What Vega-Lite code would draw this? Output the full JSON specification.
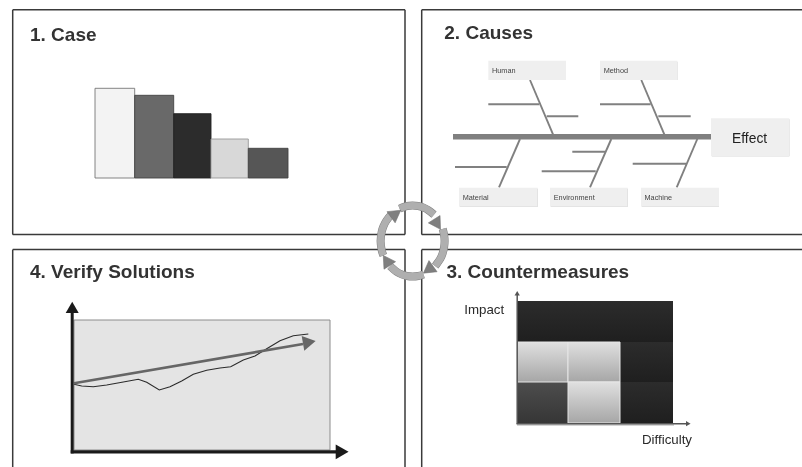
{
"$schema":"https://vega.github.io/schema/vega-lite/v6.json",
"autosize":{"type":"none"},
"padding":0,
"width":802,
"height":467,
"background":"#ffffff",
"config":{"view":{"stroke":null},"text":{"font":"Liberation Sans"}},
"encoding":{
 "x":{"type":"quantitative","field":"x","axis":null,"scale":{"domain":[0,802],"nice":false,"zero":false}},
 "y":{"type":"quantitative","field":"y","axis":null,"scale":{"domain":[467,0],"nice":false,"zero":false}}
},
"layer":[
 {"description":"panel frames",
  "data":{"values":[
   {"x":12.7,"y":9.8,"x2":405,"y2":9.8},{"x":12.7,"y":234.6,"x2":405,"y2":234.6},
   {"x":12.7,"y":9.8,"x2":12.7,"y2":234.6},{"x":405,"y":9.8,"x2":405,"y2":234.6},
   {"x":421.7,"y":9.8,"x2":802,"y2":9.8},{"x":421.7,"y":234.6,"x2":802,"y2":234.6},
   {"x":421.7,"y":9.8,"x2":421.7,"y2":234.6},
   {"x":12.7,"y":249.6,"x2":405,"y2":249.6},{"x":12.7,"y":249.6,"x2":12.7,"y2":467},{"x":405,"y":249.6,"x2":405,"y2":467},
   {"x":421.7,"y":249.6,"x2":802,"y2":249.6},{"x":421.7,"y":249.6,"x2":421.7,"y2":467}
  ]},
  "mark":{"type":"rule","stroke":"#3a3a3a","strokeWidth":1.5},
  "encoding":{"x2":{"field":"x2"},"y2":{"field":"y2"}}},

 {"description":"Pareto bars of panel 1",
  "data":{"values":[
   {"bar":"A","x":95,"x2":134.7,"y":88.3,"y2":178},
   {"bar":"B","x":134.7,"x2":173.7,"y":95.3,"y2":178},
   {"bar":"C","x":173.7,"x2":211,"y":113.7,"y2":178},
   {"bar":"D","x":211,"x2":248.3,"y":139,"y2":178},
   {"bar":"E","x":248.3,"x2":288,"y":148.3,"y2":178}
  ]},
  "mark":{"type":"rect","strokeWidth":0.9},
  "encoding":{"x2":{"field":"x2"},"y2":{"field":"y2"},
   "fill":{"field":"bar","type":"nominal","legend":null,"scale":{"domain":["A","B","C","D","E"],"range":["#f3f3f3","#696969","#2c2c2c","#d8d8d8","#565656"]}},
   "stroke":{"field":"bar","type":"nominal","legend":null,"scale":{"domain":["A","B","C","D","E"],"range":["#777777","#444444","#222222","#999999","#444444"]}}}},

 {"description":"fishbone spine",
  "data":{"values":[{"x":453,"x2":711,"y":134,"y2":139.4}]},
  "mark":{"type":"rect","fill":"#808080"},
  "encoding":{"x2":{"field":"x2"},"y2":{"field":"y2"}}},
 {"description":"fishbone branches",
  "data":{"values":[
   {"x":530,"y":80,"x2":553,"y2":134.3},{"x":488.3,"y":104.3,"x2":539.3,"y2":104.3},{"x":546.7,"y":116.3,"x2":578.3,"y2":116.3},
   {"x":641.3,"y":80,"x2":664.3,"y2":134.3},{"x":600,"y":104.3,"x2":650.7,"y2":104.3},{"x":658.3,"y":116.3,"x2":690.7,"y2":116.3},
   {"x":520,"y":139,"x2":499,"y2":187.3},{"x":455,"y":167,"x2":506.7,"y2":167},
   {"x":611.3,"y":139,"x2":590,"y2":187.3},{"x":572.3,"y":151.7,"x2":605,"y2":151.7},{"x":541.7,"y":171.3,"x2":595.7,"y2":171.3},
   {"x":697.3,"y":139,"x2":676.7,"y2":187.3},{"x":632.7,"y":163.7,"x2":686,"y2":163.7}
  ]},
  "mark":{"type":"rule","stroke":"#808080","strokeWidth":1.9},
  "encoding":{"x2":{"field":"x2"},"y2":{"field":"y2"}}},
 {"description":"shadow behind fishbone boxes",
  "data":{"name":"boxes","values":[
   {"x":488.3,"x2":566,"y":60.7,"y2":80},{"x":600,"x2":677.3,"y":60.7,"y2":80},
   {"x":459,"x2":537.7,"y":187.7,"y2":206.7},{"x":550,"x2":627.7,"y":187.7,"y2":206.7},{"x":641,"x2":719,"y":187.7,"y2":206.7},
   {"x":711,"x2":789.3,"y":118.3,"y2":156.3}
  ]},
  "mark":{"type":"rect","fill":"#b0b0b0","xOffset":1,"yOffset":1},
  "encoding":{"x2":{"field":"x2"},"y2":{"field":"y2"}}},
 {"description":"fishbone boxes",
  "data":{"name":"boxes"},
  "mark":{"type":"rect","fill":"#efefef"},
  "encoding":{"x2":{"field":"x2"},"y2":{"field":"y2"}}},
 {"description":"fishbone category labels",
  "data":{"values":[
   {"label":"Human","x":492,"y":73},{"label":"Method","x":603.7,"y":73},
   {"label":"Material","x":462.7,"y":200},{"label":"Environment","x":553.7,"y":200},{"label":"Machine","x":644.5,"y":200}
  ]},
  "mark":{"type":"text","align":"left","baseline":"alphabetic","fontSize":7.3,"fill":"#444444","blend":"darken","font":"Liberation Sans"},
  "encoding":{"text":{"field":"label"}}},
 {"description":"effect label",
  "data":{"values":[{"label":"Effect","x":749.6,"y":142.5}]},
  "mark":{"type":"text","align":"center","baseline":"alphabetic","fontSize":13.8,"fill":"#222222","blend":"darken","font":"Liberation Sans"},
  "encoding":{"text":{"field":"label"}}},

 {"description":"verification plot background",
  "data":{"values":[{"x":74,"x2":330,"y":320,"y2":450}]},
  "mark":{"type":"rect","fill":"#e4e4e4","stroke":"#8c8c8c","strokeWidth":1},
  "encoding":{"x2":{"field":"x2"},"y2":{"field":"y2"}}},
 {"description":"measured result",
  "data":{"values":[
   {"seq":1,"x":74,"y":384.3},{"seq":2,"x":81.7,"y":386},{"seq":3,"x":93.3,"y":386.7},{"seq":4,"x":106.7,"y":385},
   {"seq":5,"x":123.3,"y":382},{"seq":6,"x":138.3,"y":379.3},{"seq":7,"x":146.7,"y":382.3},{"seq":8,"x":159.3,"y":390},
   {"seq":9,"x":170,"y":386.7},{"seq":10,"x":181.7,"y":381},{"seq":11,"x":193.3,"y":374.3},{"seq":12,"x":206.7,"y":370.3},
   {"seq":13,"x":220,"y":368},{"seq":14,"x":230.7,"y":366.7},{"seq":15,"x":243.3,"y":360},{"seq":16,"x":255,"y":356},
   {"seq":17,"x":266.7,"y":348.7},{"seq":18,"x":280,"y":340.7},{"seq":19,"x":293.3,"y":335.7},{"seq":20,"x":308.3,"y":334}
  ]},
  "mark":{"type":"line","stroke":"#2b2b2b","strokeWidth":1.1},
  "encoding":{"order":{"field":"seq"}}},
 {"description":"trend line",
  "data":{"values":[{"x":74,"y":383.3,"x2":303,"y2":344}]},
  "mark":{"type":"rule","stroke":"#666666","strokeWidth":2.6},
  "encoding":{"x2":{"field":"x2"},"y2":{"field":"y2"}}},
 {"description":"verification axes",
  "data":{"values":[{"x":70.7,"x2":336,"y":450.2,"y2":453.4},{"x":70.7,"x2":73.7,"y":312,"y2":453.4}]},
  "mark":{"type":"rect","fill":"#1a1a1a"},
  "encoding":{"x2":{"field":"x2"},"y2":{"field":"y2"}}},
 {"description":"arrow heads of the verification plot",
  "data":{"values":[
   {"x":72.2,"y":309.2,"heading":0,"tone":"axis","big":"a"},
   {"x":340,"y":451.8,"heading":90,"tone":"axis","big":"b"},
   {"x":307.2,"y":342.6,"heading":80,"tone":"trend","big":"b"}
  ]},
  "mark":{"type":"point","shape":"triangle","filled":true,"opacity":1,"strokeWidth":0},
  "encoding":{
   "angle":{"field":"heading","type":"quantitative","scale":null},
   "size":{"field":"big","type":"nominal","legend":null,"scale":{"domain":["a","b"],"range":[170,220]}},
   "color":{"field":"tone","type":"nominal","legend":null,"scale":{"domain":["axis","trend"],"range":["#1a1a1a","#666666"]}}}},

 {"description":"shadow under the matrix",
  "data":{"values":[{"x":517,"x2":674,"y":424,"y2":426}]},
  "mark":{"type":"rect","fill":"#d4d4d4"},
  "encoding":{"x2":{"field":"x2"},"y2":{"field":"y2"}}},
 {"description":"matrix dark cells",
  "data":{"values":[
   {"x":517,"x2":568,"y":301,"y2":342},{"x":568,"x2":620,"y":301,"y2":342},{"x":620,"x2":673,"y":301,"y2":342},
   {"x":620,"x2":673,"y":342,"y2":382},{"x":620,"x2":673,"y":382,"y2":423}
  ]},
  "mark":{"type":"rect","fill":{"gradient":"linear","x1":0,"y1":0,"x2":0,"y2":1,"stops":[{"offset":0,"color":"#2c2c2c"},{"offset":1,"color":"#1f1f1f"}]}},
  "encoding":{"x2":{"field":"x2"},"y2":{"field":"y2"}}},
 {"description":"matrix grey cell, low difficulty and low impact",
  "data":{"values":[{"x":517,"x2":568,"y":382,"y2":423}]},
  "mark":{"type":"rect","fill":{"gradient":"linear","x1":0,"y1":0,"x2":0,"y2":1,"stops":[{"offset":0,"color":"#4d4d4d"},{"offset":1,"color":"#363636"}]}},
  "encoding":{"x2":{"field":"x2"},"y2":{"field":"y2"}}},
 {"description":"matrix light cells",
  "data":{"values":[
   {"x":517,"x2":568,"y":342,"y2":382},{"x":568,"x2":620,"y":342,"y2":382},{"x":568,"x2":620,"y":382,"y2":423}
  ]},
  "mark":{"type":"rect","stroke":"#e6e6e6","strokeWidth":1,"fill":{"gradient":"linear","x1":0,"y1":0,"x2":0,"y2":1,"stops":[{"offset":0,"color":"#e0e0e0"},{"offset":1,"color":"#a6a6a6"}]}},
  "encoding":{"x2":{"field":"x2"},"y2":{"field":"y2"}}},
 {"description":"matrix axes",
  "data":{"values":[{"x":517.2,"y":423.7,"x2":517.2,"y2":293},{"x":516.5,"y":423.7,"x2":687,"y2":423.7}]},
  "mark":{"type":"rule","stroke":"#555555","strokeWidth":1.5},
  "encoding":{"x2":{"field":"x2"},"y2":{"field":"y2"}}},
 {"description":"matrix axis arrow heads",
  "data":{"values":[{"x":517.2,"y":294,"heading":0},{"x":687.5,"y":423.7,"heading":90}]},
  "mark":{"type":"point","shape":"triangle","filled":true,"size":28,"fill":"#555555","opacity":1,"strokeWidth":0},
  "encoding":{"angle":{"field":"heading","type":"quantitative","scale":null}}},
 {"description":"matrix axis names",
  "data":{"values":[{"label":"Impact","x":464.3,"y":314.3},{"label":"Difficulty","x":642,"y":444.3}]},
  "mark":{"type":"text","align":"left","baseline":"alphabetic","fontSize":13.3,"fill":"#2a2a2a","blend":"darken","font":"Liberation Sans"},
  "encoding":{"text":{"field":"label"}}},

 {"description":"panel titles",
  "data":{"values":[
   {"label":"1. Case","x":30,"y":40.6},{"label":"2. Causes","x":444.3,"y":38.6},
   {"label":"4. Verify Solutions","x":30,"y":278.3},{"label":"3. Countermeasures","x":446.5,"y":278.3}
  ]},
  "mark":{"type":"text","align":"left","baseline":"alphabetic","fontSize":19,"fontWeight":"bold","fill":"#333333","blend":"darken","font":"Liberation Sans"},
  "encoding":{"text":{"field":"label"}}},

 {"description":"cycle ring outline",
  "data":{"name":"ring","values":[
   {"arc":"a","seq":1,"x":399.6,"y":208.6},{"arc":"a","seq":2,"x":407,"y":206},{"arc":"a","seq":3,"x":412.6,"y":205.5},{"arc":"a","seq":4,"x":418.2,"y":206},{"arc":"a","seq":5,"x":423.5,"y":207.6},{"arc":"a","seq":6,"x":428.6,"y":210.3},{"arc":"a","seq":7,"x":434,"y":214.6},
   {"arc":"b","seq":1,"x":442.7,"y":228.9},{"arc":"b","seq":2,"x":444.1,"y":234.8},{"arc":"b","seq":3,"x":444.6,"y":241},{"arc":"b","seq":4,"x":444.1,"y":247.2},{"arc":"b","seq":5,"x":442.7,"y":253.1},{"arc":"b","seq":6,"x":440.3,"y":258.8},{"arc":"b","seq":7,"x":435.2,"y":266.1},
   {"arc":"c","seq":1,"x":423.5,"y":274.4},{"arc":"c","seq":2,"x":418.2,"y":276},{"arc":"c","seq":3,"x":412.6,"y":276.5},{"arc":"c","seq":4,"x":407,"y":276},{"arc":"c","seq":5,"x":401.7,"y":274.4},{"arc":"c","seq":6,"x":396.6,"y":271.7},{"arc":"c","seq":7,"x":390,"y":266.1},
   {"arc":"d","seq":1,"x":383.4,"y":255.4},{"arc":"d","seq":2,"x":381.7,"y":250.2},{"arc":"d","seq":3,"x":380.6,"y":241},{"arc":"d","seq":4,"x":381.7,"y":231.8},{"arc":"d","seq":5,"x":383.6,"y":226},{"arc":"d","seq":6,"x":386.4,"y":220.6},{"arc":"d","seq":7,"x":391.2,"y":214.6}
  ]},
  "mark":{"type":"line","stroke":"#808080","strokeWidth":8,"strokeCap":"butt","interpolate":"cardinal"},
  "encoding":{"detail":{"field":"arc"},"order":{"field":"seq"}}},
 {"description":"cycle ring body",
  "data":{"name":"ring"},
  "mark":{"type":"line","stroke":"#afafaf","strokeWidth":7,"strokeCap":"butt","interpolate":"cardinal"},
  "encoding":{"detail":{"field":"arc"},"order":{"field":"seq"}}},
 {"description":"cycle arrow heads",
  "data":{"values":[
   {"x":436.3,"y":222.6,"heading":148},{"x":429.8,"y":268.5,"heading":234},
   {"x":387.6,"y":262.1,"heading":327},{"x":394.3,"y":214.9,"heading":54}
  ]},
  "mark":{"type":"point","shape":"triangle","filled":true,"size":190,"fill":"#7f7f7f","stroke":"#6e6e6e","strokeWidth":0.5,"opacity":1},
  "encoding":{"angle":{"field":"heading","type":"quantitative","scale":null}}}
]
}
